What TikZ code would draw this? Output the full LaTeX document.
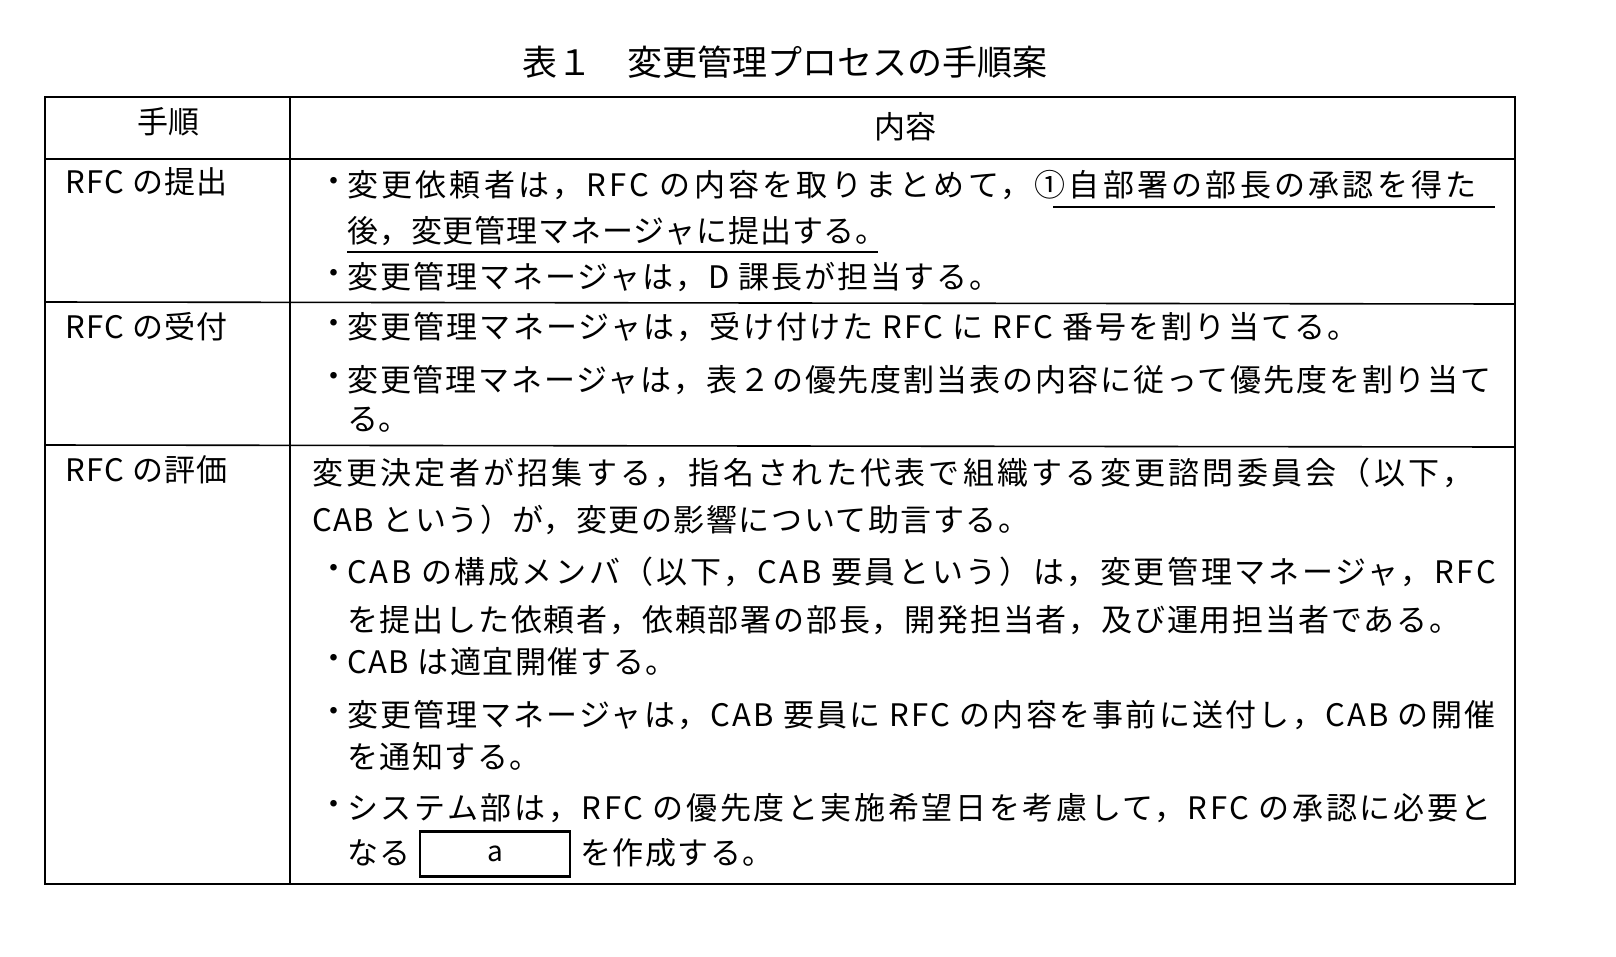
\documentclass[tikz,border=0pt]{standalone}
\usepackage{fontspec}
\setmainfont{Noto Sans CJK JP}
\newcommand{\ls}[2]{{\addfontfeature{LetterSpace=#1}#2}}
\begin{document}
\begin{tikzpicture}[x=1pt,y=-1pt,
  txt/.style={anchor=west,inner sep=0pt,font=\fontsize{31}{36}\selectfont},
  rule/.style={line width=1.6pt}]
\useasboundingbox[fill=white] (0,0) rectangle (1616,956);
\node[anchor=center,inner sep=0pt,font=\fontsize{35}{40}\selectfont] (title) at (785,62) {表１　変更管理プロセスの手順案};
% table frame
\draw[rule] (45,97) rectangle (1515,884);
\draw[rule] (290,97) -- (290,884);
\draw[rule] (45,159) -- (1515,159);
\draw[rule] (45,302) -- (1515,304);
\draw[rule] (45,445) -- (1515,447);
% header
\node[anchor=center,inner sep=0pt,font=\fontsize{31}{36}\selectfont] (h1) at (168,122) {手順};
\node[anchor=center,inner sep=0pt,font=\fontsize{31}{36}\selectfont] (h2) at (905,127) {内容};
% row labels
\node[txt] (r1) at (65,182) {\ls{4}{RFC の提出}};
\node[txt] (r2) at (65,327) {\ls{4}{RFC の受付}};
\node[txt] (r3) at (65,470) {\ls{4}{RFC の評価}};
% row 1
\node[txt] (b1) at (318,185) {・};
\node[txt] (l1) at (347,185) {\ls{10.5}{変更依頼者は，RFC の内容を取りまとめて，①自部署の部長の承認を得た}};
\node[txt] (l2) at (347,231) {\ls{3}{後，変更管理マネージャに提出する。}};
\draw[line width=1.2pt] (1053,207) -- (1495,207);
\draw[line width=1.2pt] (347,252) -- (878,252);
\node[txt] (b2) at (318,277) {・};
\node[txt] (l3) at (347,277) {\ls{6.5}{変更管理マネージャは，D 課長が担当する。}};
% row 2
\node[txt] (b3) at (318,327) {・};
\node[txt] (l4) at (347,327) {\ls{7}{変更管理マネージャは，受け付けた RFC に RFC 番号を割り当てる。}};
\node[txt] (b4) at (318,380) {・};
\node[txt] (l5) at (347,380) {\ls{6}{変更管理マネージャは，表２の優先度割当表の内容に従って優先度を割り当て}};
\node[txt] (l6) at (347,420) {る。};
% row 3
\node[txt] (l7) at (312,473) {\ls{10.5}{変更決定者が招集する，指名された代表で組織する変更諮問委員会（以下，}};
\node[txt] (l8) at (312,520) {\ls{5}{CAB という）が，変更の影響について助言する。}};
\node[txt] (b5) at (318,572) {・};
\node[txt] (l9) at (347,572) {\ls{8.5}{CAB の構成メンバ（以下，CAB 要員という）は，変更管理マネージャ，RFC}};
\node[txt] (l10) at (347,620) {\ls{5.8}{を提出した依頼者，依頼部署の部長，開発担当者，及び運用担当者である。}};
\node[txt] (b6) at (318,662) {・};
\node[txt] (l11) at (347,662) {\ls{5}{CAB は適宜開催する。}};
\node[txt] (b7) at (318,715) {・};
\node[txt] (l12) at (347,715) {\ls{7.2}{変更管理マネージャは，CAB 要員に RFC の内容を事前に送付し，CAB の開催}};
\node[txt] (l13) at (347,757) {\ls{5}{を通知する。}};
\node[txt] (b8) at (318,808) {・};
\node[txt] (l14) at (347,808) {\ls{8.5}{システム部は，RFC の優先度と実施希望日を考慮して，RFC の承認に必要と}};
\node[txt] (l15) at (347,853) {\ls{5}{なる}};
\node[draw,line width=2.4pt,minimum width=150pt,minimum height=45pt,inner sep=0pt,font=\fontsize{28}{32}\selectfont] (boxa) at (495,854) {a};
\node[txt] (l16) at (580,853) {\ls{5}{を作成する。}};
\end{tikzpicture}
\end{document}
